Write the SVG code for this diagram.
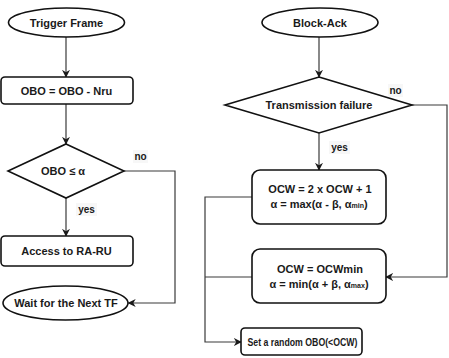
<svg xmlns="http://www.w3.org/2000/svg" width="449" height="358" viewBox="0 0 449 358">
  <style>
    .shape { fill: #ffffff; stroke: #111111; stroke-width: 1.6; }
    .edge { fill: none; stroke: #3a3a3a; stroke-width: 1.2; }
    .txt { font-family: "Liberation Sans", Arial, sans-serif; font-weight: bold; font-size: 11px; fill: #1a1a1a; text-anchor: middle; }
    .lbl { font-family: "Liberation Sans", Arial, sans-serif; font-weight: bold; font-size: 10px; fill: #1a1a1a; text-anchor: middle; }
    .sub { font-size: 7px; }
  </style>
  <defs>
    <marker id="arrow" viewBox="0 0 10 10" refX="9" refY="5" markerWidth="8" markerHeight="8" markerUnits="userSpaceOnUse" orient="auto">
      <path d="M0,0 L10,5 L0,10 L3,5 Z" fill="#1a1a1a"/>
    </marker>
  </defs>

  <!-- connectors -->
  <g id="connectors">
    <path class="edge" d="M66,37 V77" marker-end="url(#arrow)"/>
    <path class="edge" d="M66,104 V144" marker-end="url(#arrow)"/>
    <path class="edge" d="M66,198 V236" marker-end="url(#arrow)"/>
    <path class="edge" d="M124,171 H175 V303 H128.5" marker-end="url(#arrow)"/>
    <path class="edge" d="M319,37 V77" marker-end="url(#arrow)"/>
    <path class="edge" d="M319,133 V170" marker-end="url(#arrow)"/>
    <path class="edge" d="M412,105 H447 V277 H386" marker-end="url(#arrow)"/>
    <path class="edge" d="M252,197 H205 V342 H241" marker-end="url(#arrow)"/>
    <path class="edge" d="M252,277 H205"/>
    <!-- branch labels -->
    <rect x="133" y="150" width="15" height="13" fill="#f7f7f7"/>
    <text class="lbl" x="140.5" y="160">no</text>
    <rect x="76" y="203" width="21" height="13" fill="#f7f7f7"/>
    <text class="lbl" x="86.5" y="213">yes</text>
    <rect x="388" y="84" width="15" height="13" fill="#f7f7f7"/>
    <text class="lbl" x="395.5" y="94">no</text>
    <rect x="329" y="141" width="21" height="13" fill="#f7f7f7"/>
    <text class="lbl" x="339.5" y="151">yes</text>
  </g>

  <!-- left column -->
  <g id="trigger-frame">
    <ellipse class="shape" cx="66.5" cy="22.5" rx="58" ry="14.5"/>
    <text class="txt" x="66.5" y="26.5">Trigger Frame</text>
  </g>
  <g id="obo-update">
    <rect class="shape" x="1" y="77" width="132" height="27" rx="4"/>
    <text class="txt" x="66.5" y="94.5">OBO = OBO - Nru</text>
  </g>
  <g id="obo-check">
    <polygon class="shape" points="66,144 124,171 66,198 8,171"/>
    <text class="txt" x="63" y="175">OBO ≤ α</text>
  </g>
  <g id="access-ra-ru">
    <rect class="shape" x="1" y="236" width="132" height="30" rx="4"/>
    <text class="txt" x="66.5" y="255">Access to RA-RU</text>
  </g>
  <g id="wait-next-tf">
    <ellipse class="shape" cx="65.5" cy="303" rx="62.5" ry="17"/>
    <text class="txt" x="66" y="307">Wait for the Next TF</text>
  </g>

  <!-- right column -->
  <g id="block-ack">
    <ellipse class="shape" cx="320" cy="22.5" rx="58" ry="14.5"/>
    <text class="txt" x="320" y="26.5">Block-Ack</text>
  </g>
  <g id="tx-failure">
    <polygon class="shape" points="319,77 412,105 319,133 225,105"/>
    <text class="txt" x="319" y="109">Transmission failure</text>
  </g>
  <g id="ocw-increase">
    <rect class="shape" x="252" y="170" width="134" height="54" rx="8"/>
    <text class="txt" x="320" y="193">OCW = 2 x OCW + 1</text>
    <text class="txt" x="319" y="208">α = max(α - β, α<tspan class="sub">min</tspan>)</text>
  </g>
  <g id="ocw-reset">
    <rect class="shape" x="252" y="249" width="134" height="54" rx="8"/>
    <text class="txt" x="320" y="273">OCW = OCWmin</text>
    <text class="txt" x="319" y="288">α = min(α + β, α<tspan class="sub">max</tspan>)</text>
  </g>
  <g id="random-obo">
    <rect class="shape" x="241" y="328" width="121" height="27" rx="4"/>
    <text class="txt" x="302.5" y="345.5" textLength="110" lengthAdjust="spacingAndGlyphs">Set a random OBO(&lt;OCW)</text>
  </g>
</svg>
